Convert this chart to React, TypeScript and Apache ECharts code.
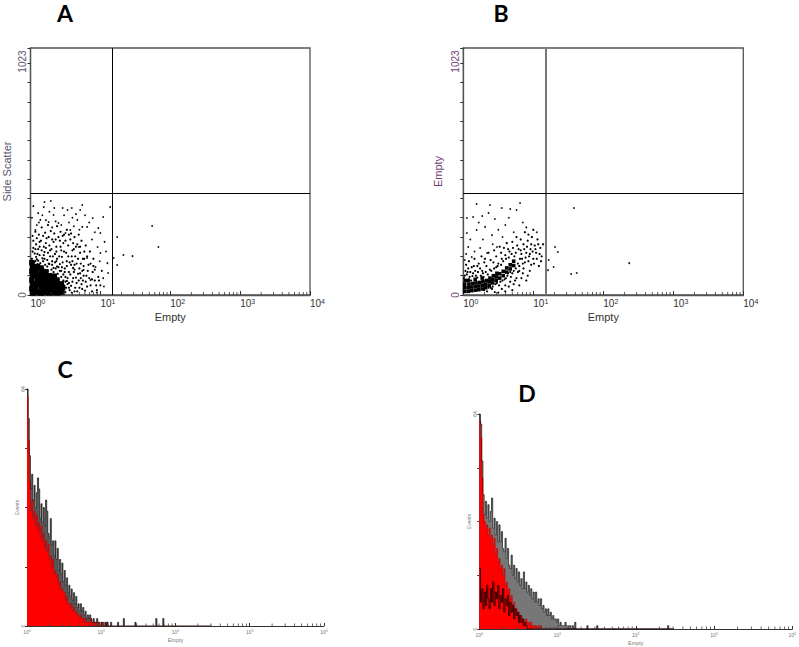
import React, { useEffect, useRef } from "react";
import * as echarts from "echarts";

// ---------- axis / tick constants ----------
const DECADES = [0, 1, 2, 3];
const MINOR_STEPS = [2, 3, 4, 5, 6, 7, 8, 9];
const BIN_CH = 4; // channels per histogram bin
const CH_PER_DECADE = 256;
const SCATTER_Y_MAX = 1023;
const HIST_Y_MAX = 64;
const QUAD_X = 15; // quadrant marker on the log axis
const QUAD_Y = 420; // quadrant marker on the linear channel axis

// ---------- Panel A : [log10(Empty), Side Scatter channel] ----------
const A_CORE = [
  [0.03, 8], [0.02, 26], [0.03, 44], [0.02, 62], [0.03, 80], [0.02, 98], [0.03, 116], [0.02, 134],
  [0.09, 10], [0.08, 28], [0.09, 46], [0.1, 64], [0.09, 82], [0.08, 100], [0.1, 118],
  [0.15, 8], [0.16, 27], [0.15, 45], [0.14, 63], [0.15, 81], [0.16, 99], [0.15, 112],
  [0.21, 10], [0.22, 28], [0.21, 46], [0.2, 64], [0.21, 82], [0.22, 96],
  [0.27, 9], [0.28, 27], [0.27, 45], [0.26, 63], [0.27, 80],
  [0.33, 10], [0.34, 28], [0.33, 46], [0.32, 64], [0.34, 78],
  [0.39, 9], [0.4, 27], [0.39, 45], [0.38, 62],
  [0.45, 12], [0.46, 30], [0.44, 46],
];
const A_MID = [
  [0.02, 150], [0.06, 172], [0.09, 148], [0.13, 165], [0.17, 152], [0.2, 178], [0.24, 145], [0.28, 160],
  [0.31, 140], [0.35, 170], [0.38, 150], [0.42, 128], [0.45, 158], [0.49, 110], [0.52, 140], [0.55, 95],
  [0.58, 125], [0.61, 70], [0.63, 105], [0.66, 50], [0.68, 88], [0.7, 30], [0.72, 130], [0.75, 60],
  [0.78, 18], [0.5, 75], [0.53, 45], [0.56, 20], [0.59, 160], [0.62, 190], [0.04, 195], [0.08, 210],
  [0.11, 190], [0.15, 225], [0.19, 200], [0.23, 235], [0.27, 205], [0.3, 190], [0.33, 220], [0.37, 200],
  [0.4, 240], [0.44, 185], [0.47, 215], [0.51, 175], [0.54, 205], [0.57, 230], [0.6, 185], [0.64, 160],
  [0.67, 210], [0.71, 175], [0.74, 100], [0.77, 150], [0.8, 80], [0.83, 125], [0.86, 40], [0.89, 95],
  [0.92, 60], [0.95, 20], [0.03, 245], [0.07, 262], [0.12, 250], [0.16, 280], [0.21, 258], [0.25, 290],
  [0.29, 265], [0.34, 255], [0.38, 285], [0.43, 262], [0.48, 250], [0.52, 270], [0.58, 255], [0.63, 240],
  [0.69, 250], [0.73, 225], [0.79, 205], [0.85, 180], [0.9, 150], [0.05, 118], [0.1, 128], [0.18, 112],
  [0.26, 130], [0.33, 112], [0.38, 118], [0.44, 100], [0.47, 85], [0.5, 12], [0.52, 58], [0.46, 10],
  [0.58, 38], [0.63, 15], [0.66, 130], [0.7, 110], [0.73, 45], [0.76, 120], [0.81, 35], [0.84, 70],
  [0.88, 15], [0.9, 120], [0.97, 75], [1.0, 40], [1.02, 100], [0.01, 5], [0.2, 5], [0.3, 3], [0.4, 6],
  [0.01, 140], [0.05, 135], [0.08, 158], [0.11, 142], [0.14, 132], [0.18, 140], [0.21, 125], [0.24, 118],
  [0.27, 128], [0.3, 105], [0.33, 95], [0.36, 110], [0.39, 88], [0.42, 100], [0.44, 75], [0.47, 60],
  [0.49, 95], [0.51, 30], [0.53, 70], [0.55, 50], [0.57, 85], [0.59, 10], [0.6, 55], [0.62, 95],
  [0.64, 30], [0.65, 72], [0.67, 15], [0.69, 60], [0.71, 90], [0.74, 25], [0.76, 80], [0.79, 55],
  [0.82, 100], [0.03, 180], [0.07, 190], [0.1, 170], [0.13, 200], [0.16, 185], [0.19, 165], [0.22, 195],
  [0.25, 175], [0.28, 185], [0.32, 160], [0.35, 135], [0.37, 180], [0.41, 160], [0.43, 200], [0.46, 135],
  [0.48, 180], [0.52, 120], [0.54, 160], [0.56, 135], [0.6, 140], [0.63, 125], [0.68, 150], [0.72, 70],
  [0.75, 150], [0.04, 225], [0.09, 235], [0.13, 220], [0.18, 245], [0.22, 215], [0.26, 240], [0.31, 230],
  [0.36, 230], [0.42, 225], [0.46, 245], [0.5, 225], [0.55, 250], [0.61, 215], [0.65, 200], [0.71, 200],
  [0.77, 180], [0.81, 160], [0.86, 130], [0.88, 65], [0.92, 105], [0.94, 40], [0.98, 60], [0.07, 140],
  [0.2, 150], [0.25, 100], [0.31, 125], [0.37, 140], [0.4, 115], [0.45, 115], [0.5, 55], [0.48, 40],
  [0.55, 30], [0.61, 112],
];
const A_SPARSE = [
  [0.04, 368], [0.19, 364], [0.29, 389], [0.2, 385], [0.34, 360], [0.46, 360], [0.53, 352], [0.59, 360],
  [0.71, 352], [0.74, 373], [1.14, 364], [1.04, 323], [0.89, 319], [0.33, 331], [0.26, 302], [0.4, 298],
  [0.67, 311], [0.81, 282], [0.97, 277], [1.0, 257], [0.74, 282], [0.57, 269], [0.11, 339], [0.14, 311],
  [0.07, 269], [0.5, 257], [0.96, 199], [1.0, 174], [1.1, 132], [1.11, 91], [1.04, 70], [0.93, 116],
  [0.86, 62], [0.76, 104], [0.81, 153], [0.69, 199], [1.24, 240], [1.33, 166], [1.46, 161], [1.74, 286],
  [1.83, 199], [1.19, 153], [1.24, 124], [0.02, 320], [0.09, 290], [0.17, 330], [0.22, 310], [0.31, 280],
  [0.36, 305], [0.44, 290], [0.48, 330], [0.55, 300], [0.62, 285], [0.65, 335], [0.78, 330], [0.84, 300],
  [0.92, 260], [1.06, 220], [0.88, 230], [1.08, 180], [0.99, 140], [1.05, 35], [0.95, 10], [0.12, 300],
  [0.27, 345], [0.6, 320], [0.7, 270],
];

// ---------- Panel B : [log10(Empty), Empty channel] ----------
const B_CORE = [
  [0.02, 15], [0.02, 30], [0.02, 45], [0.03, 60], [0.07, 15], [0.07, 30], [0.08, 45], [0.07, 60],
  [0.12, 18], [0.12, 33], [0.13, 48], [0.17, 20], [0.17, 35], [0.18, 50], [0.17, 65], [0.22, 22],
  [0.22, 37], [0.23, 52], [0.27, 25], [0.27, 40], [0.28, 55], [0.27, 70], [0.32, 30], [0.32, 45],
  [0.33, 60], [0.37, 40], [0.37, 55], [0.38, 70], [0.42, 50], [0.42, 65], [0.43, 80], [0.47, 60],
  [0.47, 75], [0.48, 90], [0.52, 70], [0.52, 88], [0.57, 80], [0.57, 98], [0.62, 95], [0.62, 112],
  [0.67, 108], [0.67, 125], [0.72, 122], [0.72, 140],
];
const B_MID = [
  [0.01, 70], [0.05, 85], [0.08, 65], [0.1, 95], [0.13, 78], [0.17, 100], [0.2, 72], [0.24, 110],
  [0.28, 90], [0.3, 20], [0.33, 120], [0.36, 30], [0.38, 105], [0.41, 25], [0.43, 135], [0.46, 45],
  [0.49, 120], [0.51, 40], [0.55, 150], [0.56, 60], [0.6, 165], [0.61, 70], [0.64, 90], [0.66, 180],
  [0.68, 75], [0.71, 195], [0.72, 100], [0.75, 110], [0.77, 205], [0.8, 120], [0.82, 185], [0.84, 150],
  [0.86, 210], [0.88, 135], [0.9, 175], [0.92, 225], [0.94, 160], [0.96, 190], [0.98, 240], [1.0, 150],
  [1.02, 205], [1.04, 175], [1.06, 230], [1.08, 120], [1.1, 195], [0.85, 90], [0.9, 60], [0.95, 100],
  [0.8, 40], [0.7, 20], [0.65, 35], [0.5, 10], [0.45, 12], [1.12, 160], [1.14, 210], [0.93, 250],
  [0.88, 260], [0.76, 240], [0.62, 215], [0.58, 195], [0.54, 175], [0.47, 160], [0.39, 145], [0.3, 135],
  [0.22, 130], [0.15, 120], [0.07, 110], [0.03, 100], [1.0, 270], [0.97, 125], [0.74, 60], [0.6, 40],
  [0.78, 95], [0.67, 55], [0.83, 70],
  [0.02, 80], [0.06, 95], [0.09, 75], [0.11, 60], [0.14, 90], [0.18, 80], [0.21, 95], [0.25, 80],
  [0.27, 100], [0.29, 75], [0.32, 95], [0.34, 15], [0.35, 85], [0.39, 30], [0.4, 100], [0.42, 35],
  [0.44, 110], [0.47, 115], [0.48, 50], [0.5, 130], [0.53, 55], [0.54, 125], [0.57, 140], [0.59, 65],
  [0.61, 150], [0.63, 80], [0.65, 155], [0.67, 95], [0.69, 170], [0.7, 90], [0.73, 160], [0.75, 175],
  [0.78, 130], [0.79, 190], [0.81, 150], [0.83, 170], [0.85, 130], [0.87, 190], [0.89, 155], [0.91, 200],
  [0.93, 140], [0.95, 170], [0.97, 210], [0.99, 180], [1.01, 130], [1.03, 190], [1.05, 150], [1.07, 210],
  [1.09, 170], [1.11, 140], [0.8, 100], [0.86, 110], [0.92, 80], [0.76, 70], [0.72, 45], [0.55, 25],
  [0.6, 15], [0.08, 140], [0.16, 150], [0.26, 160], [0.36, 175], [0.44, 185], [0.52, 200], [0.64, 190],
  [0.7, 220], [0.82, 230], [0.04, 125], [0.12, 115], [0.2, 120], [0.31, 150],
];
const B_SPARSE = [
  [0.19, 377], [0.38, 373], [0.55, 360], [0.67, 356], [0.81, 381], [0.76, 352], [0.05, 319], [0.14, 323],
  [0.27, 327], [0.45, 315], [0.6, 290], [0.31, 282], [0.05, 257], [0.19, 269], [0.41, 248], [0.07, 199],
  [0.24, 195], [0.48, 199], [0.62, 215], [0.12, 157], [0.34, 174], [0.02, 145], [1.31, 199], [1.35, 178],
  [1.29, 116], [1.54, 87], [1.62, 91], [2.37, 132], [1.58, 360], [1.21, 103], [1.22, 145], [0.1, 230],
  [0.22, 300], [0.36, 340], [0.5, 270], [0.65, 320], [0.72, 260], [0.85, 300], [0.04, 170], [0.28, 230],
  [0.42, 210], [0.56, 240], [0.16, 180], [0.9, 280], [1.05, 260],
];

// ---------- Panel C / D histograms (counts per 4-channel bin) ----------
const C_RED = [62, 50, 39, 31, 34, 29, 31, 27, 30, 26, 28, 24, 27, 23, 25, 21, 23, 20, 22, 18, 19, 16, 18, 14, 15, 13, 14, 11, 12, 10, 10, 9, 9, 7, 8, 6, 6, 5, 6, 4, 5, 4, 4, 3, 3, 2, 3, 2, 2, 1, 2, 1, 1, 1, 2, 1, 1, 0, 1, 1, 0, 1, 0, 0, 1, 0, 0, 0, 1];
const C_BLACK = [64, 56, 46, 37, 41, 34, 38, 32, 36, 40, 37, 29, 33, 28, 32, 27, 34, 31, 25, 24, 29, 22, 23, 19, 23, 18, 21, 15, 18, 14, 17, 12, 15, 11, 13, 9, 11, 8, 10, 7, 9, 6, 8, 5, 6, 4, 6, 4, 5, 3, 4, 2, 3, 2, 3, 2, 1, 2, 1, 1, 2, 1, 1, 0, 1, 1, 0, 1, 0, 1, 0, 0, 1];
const C_SPIKES = [[78, 1], [83, 2], [93, 1], [111, 2], [117, 2]];

const D_RED = [62, 57, 45, 34, 32, 30, 31, 28, 30, 27, 28, 25, 27, 22, 24, 20, 21, 18, 19, 16, 18, 13, 14, 11, 12, 9, 10, 7, 8, 6, 6, 4, 5, 3, 4, 3, 3, 2, 3, 2, 2, 1, 2, 1, 1, 1, 1, 0, 1, 0, 1];
const D_BLACK = [64, 61, 50, 40, 34, 38, 33, 37, 32, 35, 39, 30, 33, 28, 32, 26, 31, 26, 29, 24, 23, 27, 21, 24, 19, 18, 22, 16, 19, 15, 18, 14, 17, 13, 15, 12, 17, 12, 14, 11, 13, 10, 12, 9, 11, 8, 11, 8, 9, 7, 9, 6, 7, 5, 6, 4, 6, 4, 5, 3, 4, 3, 3, 2, 3, 1, 2, 1, 1, 1, 2, 1, 0, 1, 1, 0, 1, 0, 2];
const D_DARK = [18, 8, 12, 6, 11, 7, 13, 9, 6, 12, 8, 14, 7, 11, 9, 13, 6, 10, 8, 12, 5, 9, 7, 10, 4, 8, 5, 7, 3, 6, 4, 5, 2, 4, 2, 3, 1, 2, 1];
const D_SPIKES = [[88, 1], [96, 1], [154, 1]];
const HIST_LEN = 160;

const FONT = "Liberation Sans";

const toXY = (pts: number[][]) => pts.map(([d, c]) => [Math.pow(10, d), c]);
const binX = (i: number) => Math.pow(10, (i * BIN_CH) / CH_PER_DECADE);
function histData(main: number[], spikes: number[][]) {
  const arr: number[] = new Array(HIST_LEN).fill(0);
  main.forEach((v, i) => (arr[i] = v));
  spikes.forEach(([b, v]) => (arr[b] = v));
  return arr.map((v, i) => [binX(i), v]);
}
const minorTicks = DECADES.flatMap((k) => MINOR_STEPS.map((m) => [m * Math.pow(10, k), 0]));

function logXAxis(grid: number, small: boolean) {
  const fs = small ? 5 : 10;
  const col = small ? "#777" : "#333";
  return {
    gridIndex: grid,
    type: "log",
    logBase: 10,
    min: 1,
    max: 10000,
    axisLine: { show: true, onZero: false, lineStyle: { color: small ? "#333" : "#555", width: small ? 1 : 1.3 } },
    axisTick: { show: true, inside: true, length: small ? 3 : 4, lineStyle: { color: "#333", width: 1 } },
    splitLine: { show: false },
    axisLabel: {
      margin: 3,
      align: small ? "center" : "left",
      color: col,
      formatter: (v: number) => `{b|10}{s|${Math.round(Math.log10(v))}}`,
      rich: {
        b: { fontSize: fs, fontFamily: FONT, color: col, verticalAlign: "bottom" },
        s: { fontSize: small ? 3.5 : 7, fontFamily: FONT, color: col, verticalAlign: "top", lineHeight: small ? 3 : 6 },
      },
    },
    name: "Empty",
    nameLocation: "middle",
    nameGap: small ? 11 : 16,
    nameTextStyle: { fontSize: small ? 5.5 : 11, fontFamily: FONT, color: col },
  };
}

function scatterYAxis(grid: number, name: string, color: string, gap: number) {
  return {
    gridIndex: grid,
    type: "value",
    min: 0,
    max: SCATTER_Y_MAX,
    interval: 80,
    axisLine: { show: true, lineStyle: { color: "#555", width: 1.3 } },
    axisTick: { show: true, length: 3, lineStyle: { color: "#333" } },
    splitLine: { show: false },
    axisLabel: {
      rotate: 90,
      margin: 3,
      showMaxLabel: true,
      showMinLabel: true,
      color,
      fontSize: 10,
      fontFamily: FONT,
      formatter: (v: number) => (v === 0 ? "0" : v === SCATTER_Y_MAX ? `{t|${SCATTER_Y_MAX}}` : ""),
      rich: { t: { fontSize: 10, fontFamily: FONT, color, padding: [0, 27, 0, 0] } },
    },
    name,
    nameLocation: "middle",
    nameGap: gap,
    nameTextStyle: { fontSize: 11, fontFamily: FONT, color },
  };
}

function histYAxis(grid: number, gap: number) {
  return {
    gridIndex: grid,
    type: "value",
    min: 0,
    max: HIST_Y_MAX,
    interval: 16,
    axisLine: { show: true, lineStyle: { color: "#333", width: 1 } },
    axisTick: { show: true, length: 2, lineStyle: { color: "#333" } },
    splitLine: { show: false },
    axisLabel: {
      rotate: 90,
      margin: 2,
      showMaxLabel: true,
      color: "#777",
      fontSize: 5,
      fontFamily: FONT,
      formatter: (v: number) => (v === 0 || v === HIST_Y_MAX ? String(v) : ""),
    },
    name: "Events",
    nameLocation: "middle",
    nameGap: gap,
    nameTextStyle: { fontSize: 5, fontFamily: FONT, color: "#777" },
  };
}

function tickSeries(axis: number, color: string, h: number) {
  return {
    type: "scatter",
    xAxisIndex: axis,
    yAxisIndex: axis,
    data: minorTicks,
    symbol: "rect",
    symbolSize: [0.8, h],
    symbolOffset: [0, -h / 2],
    itemStyle: { color, opacity: 1 },
    silent: true,
    clip: false,
    z: 5,
  };
}

function dots(axis: number, data: number[][], size: number, color: string, symbol = "circle") {
  return {
    type: "scatter",
    xAxisIndex: axis,
    yAxisIndex: axis,
    data: toXY(data),
    symbol,
    symbolSize: size,
    itemStyle: { color, opacity: 1 },
    silent: true,
  };
}

function quadLines(axis: number, vColor: string, vWidth: number) {
  return {
    type: "scatter",
    xAxisIndex: axis,
    yAxisIndex: axis,
    data: [],
    silent: true,
    markLine: {
      silent: true,
      symbol: ["none", "none"],
      label: { show: false },
      animation: false,
      data: [
        { xAxis: QUAD_X, lineStyle: { color: vColor, width: vWidth, type: "solid" } },
        { yAxis: QUAD_Y, lineStyle: { color: "#000", width: 1, type: "solid" } },
      ],
    },
  };
}

function histLine(axis: number, data: number[][], color: string, width: number, area: any, z: number) {
  return {
    type: "line",
    xAxisIndex: axis,
    yAxisIndex: axis,
    data,
    step: "end",
    symbol: "none",
    showSymbol: false,
    lineStyle: { color, width },
    areaStyle: area,
    silent: true,
    z,
  };
}

const letter = (t: string, x: number, y: number) => ({
  type: "text",
  x,
  y,
  style: { text: t, fontSize: 23, fontWeight: "bold", fontFamily: "Lato", fill: "#000", textAlign: "center", textVerticalAlign: "middle" },
});

export default function App() {
  const ref = useRef<HTMLDivElement>(null);
  useEffect(() => {
    if (!ref.current) return;
    const chart = echarts.init(ref.current, undefined, { renderer: "svg" });
    const A_COLOR = "#55556a";
    const B_COLOR = "#743c72";
    const cBlack = histData(C_BLACK, C_SPIKES);
    const dBlack = histData(D_BLACK, D_SPIKES);
    chart.setOption({
      animation: false,
      grid: [
        { left: 30, top: 48, width: 280, height: 247, show: true, borderColor: "#555", borderWidth: 1.3, backgroundColor: "transparent" },
        { left: 463.3, top: 48, width: 280, height: 247, show: true, borderColor: "#555", borderWidth: 1.3, backgroundColor: "transparent" },
        { left: 27, top: 389, width: 297, height: 237 },
        { left: 479.3, top: 414, width: 313, height: 215 },
      ],
      xAxis: [logXAxis(0, false), logXAxis(1, false), logXAxis(2, true), logXAxis(3, true)],
      yAxis: [
        scatterYAxis(0, "Side Scatter", A_COLOR, 18.5),
        scatterYAxis(1, "Empty", B_COLOR, 19.5),
        histYAxis(2, 6),
        histYAxis(3, 8),
      ],
      series: [
        dots(0, A_CORE, 5.5, "#000", "rect"),
        dots(0, A_MID, 2.2, "#000"),
        dots(0, A_SPARSE, 1.8, "#111"),
        quadLines(0, "#000", 1),
        tickSeries(0, "#333", 3),
        dots(1, B_CORE, 3.6, "#000", "rect"),
        dots(1, B_MID, 2.2, "#000"),
        dots(1, B_SPARSE, 1.8, "#111"),
        quadLines(1, "#777", 2),
        tickSeries(1, "#333", 3),
        // C : overlay outline (dark body) under the red filled histogram
        histLine(2, cBlack, "#000", 0, { color: "#3a3a3a", opacity: 0.85 }, 1),
        histLine(2, histData(C_RED, []), "#b00000", 0.5, { color: "#ff0000", opacity: 1 }, 2),
        histLine(2, cBlack, "#000", 0.6, undefined, 3),
        tickSeries(2, "#444", 2.5),
        // D
        histLine(3, dBlack, "#000", 0, { color: "#555", opacity: 0.8 }, 1),
        histLine(3, histData(D_RED, []), "#b00000", 0.5, { color: "#ff0000", opacity: 1 }, 2),
        histLine(3, histData(D_DARK, []), "#000", 0.8, undefined, 3),
        histLine(3, dBlack, "#000", 0.6, undefined, 4),
        tickSeries(3, "#444", 2.5),
      ],
      graphic: [letter("A", 65, 13), letter("B", 501, 13), letter("C", 65, 369), letter("D", 527, 393)],
    });
    return () => chart.dispose();
  }, []);
  return <div ref={ref} style={{ position: "absolute", left: 0, top: 0, width: 799, height: 647 }} />;
}
